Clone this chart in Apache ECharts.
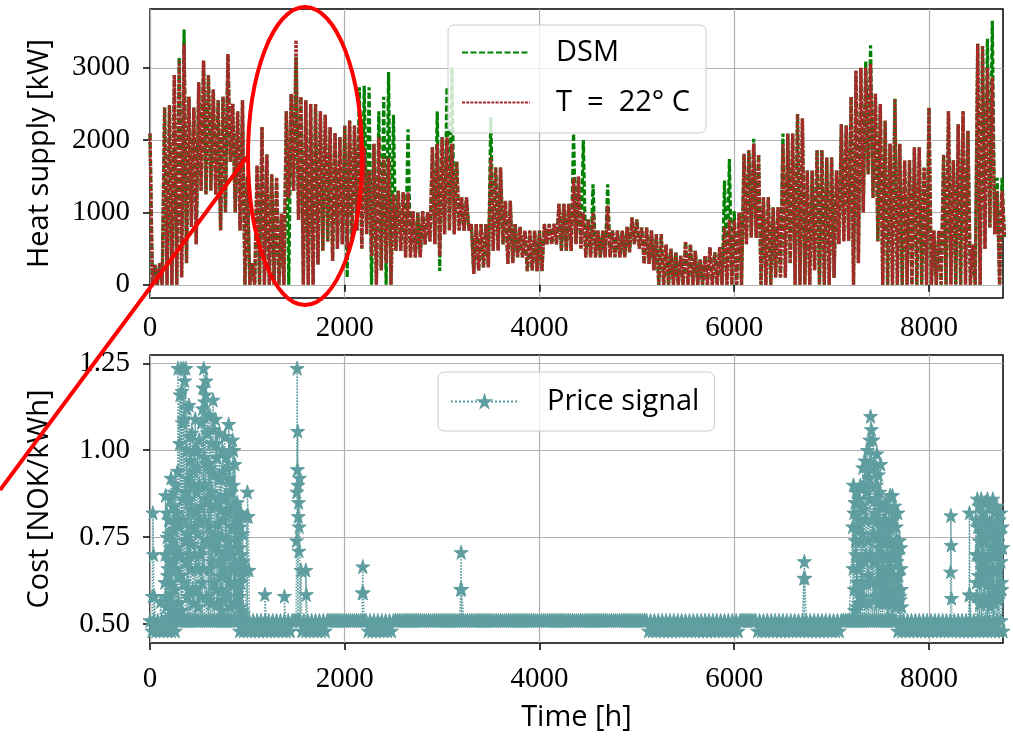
<!DOCTYPE html>
<html>
<head>
<meta charset="utf-8">
<title>Heat supply and price signal</title>
<script src="https://cdn.jsdelivr.net/npm/echarts@6.0.0/dist/echarts.min.js"></script>
<style>
  html, body { margin: 0; padding: 0; background: #fff; }
  #chart { width: 1013px; height: 737px; }
</style>
</head>
<body>
<div id="chart"></div>
<script>
const heatStep = 25;
const dsmSupply = [
  2090,0, 280,0, 300,0, 2450,0, 2480,0, 2900,0, 3150,100, 3530,300, 2600,800, 2450,560,
  2800,1300, 3100,1250, 2900,1300, 2700,1250, 2550,750, 2600,1000, 3190,1700, 2500,1000, 2400,750, 2550,0,
  1500,0, 300,0, 1650,0, 2180,0, 1800,0, 1530,0, 1480,0, 980,0, 2400,0, 2640,1300,
  3150,900, 2600,0, 2550,0, 2500,0, 2500,280, 2400,470, 2350,600, 2180,330, 2100,500, 2040,560,
  2200,100, 2270,600, 2200,750, 2730,500, 2750,700, 2730,0, 1950,0, 2400,200, 2600,0, 2940,0,
  2350,470, 1300,470, 1280,380, 2150,380, 1020,380, 1000,380, 1020,560, 1000,600, 1900,560, 2400,190,
  2040,700, 2730,750, 3010,700, 1700,750, 1210,750, 1210,750, 840,150, 840,200, 840,240, 840,240,
  2320,470, 1620,470, 1620,560, 1160,290, 1160,300, 840,380, 800,380, 750,190, 750,200, 750,190,
  750,190, 840,560, 840,560, 840,560, 1120,470, 1120,470, 1120,470, 2090,560, 1500,500, 2000,380,
  900,380, 1390,380, 750,380, 750,380, 1390,380, 750,380, 750,380, 750,380, 800,450, 930,560,
  900,500, 790,290, 790,290, 750,200, 700,0, 700,0, 560,0, 500,0, 450,0, 400,0,
  600,0, 560,0, 470,0, 350,0, 400,0, 520,0, 450,0, 520,0, 1440,0, 1740,0,
  1020,0, 1000,0, 1810,560, 1860,650, 2020,650, 1800,0, 1210,0, 1210,0, 1070,100, 1070,100,
  2090,100, 2090,300, 2090,0, 2360,0, 2300,0, 1580,0, 1580,200, 1860,0, 1860,0, 1760,0,
  1760,100, 1580,560, 2220,600, 2200,610, 2600,0, 2960,300, 3000,1000, 3100,1530, 3310,1200, 2640,600,
  2500,0, 2270,0, 1950,0, 2570,0, 1950,0, 1720,0, 1720,0, 1900,0, 1900,0, 1620,0,
  2450,0, 750,0, 750,0, 1800,0, 2400,0, 1720,0, 2220,0, 2400,0, 2130,0, 560,0,
  3330,0, 3300,500, 3400,790, 3650,700, 1480,0, 1480,660
];
const t22Supply = [
  2090,0, 280,0, 300,0, 2450,0, 2480,0, 2900,0, 3100,100, 3330,300, 2600,800, 2450,560,
  2800,1300, 3100,1250, 2900,1300, 2700,1250, 2550,750, 2600,1000, 3190,1700, 2500,1000, 2400,750, 2550,0,
  1500,0, 300,0, 1650,0, 2180,0, 1800,0, 1530,0, 1480,0, 980,0, 2400,1200, 2640,1300,
  3380,900, 2600,0, 2550,0, 2500,0, 2500,280, 2400,470, 2350,600, 2180,330, 2100,500, 2040,560,
  2200,500, 2270,600, 2200,750, 2220,500, 1900,700, 1580,400, 1950,0, 2040,200, 1760,300, 1760,0,
  1250,470, 1300,470, 1280,380, 1280,380, 1020,380, 1000,380, 1020,560, 1000,600, 1900,560, 1950,400,
  2040,700, 2040,750, 1950,700, 1700,750, 1210,750, 1210,750, 840,150, 840,200, 840,240, 840,240,
  1760,470, 1620,470, 1620,560, 1160,290, 1160,300, 840,380, 800,380, 750,190, 750,200, 750,190,
  750,190, 840,560, 840,560, 840,560, 1120,470, 1120,470, 1120,470, 1480,560, 1500,500, 1000,380,
  900,380, 1000,380, 750,380, 750,380, 1100,380, 750,380, 750,380, 750,380, 800,450, 930,560,
  900,500, 790,290, 790,290, 750,200, 700,0, 700,0, 560,0, 500,0, 450,0, 400,0,
  600,0, 560,0, 470,0, 350,0, 400,0, 520,0, 450,0, 520,0, 800,0, 900,0,
  900,0, 1000,0, 1810,560, 1860,650, 1950,650, 1800,0, 1210,0, 1210,0, 1070,100, 1070,100,
  1950,100, 2090,300, 2090,0, 2360,0, 2300,0, 1580,0, 1580,200, 1860,0, 1860,0, 1760,0,
  1760,100, 1580,560, 2220,600, 2200,610, 2600,0, 2960,300, 3000,1000, 3000,1530, 3050,1200, 2640,600,
  2500,0, 2270,0, 1950,0, 2570,0, 1950,0, 1720,0, 1720,0, 1900,0, 1900,0, 1620,0,
  2450,0, 750,0, 750,0, 1800,0, 2400,0, 1720,0, 2220,0, 2400,0, 2130,0, 560,0,
  3330,0, 3300,500, 3000,790, 2870,700, 1300,0, 1300,660
];

// price signal: base level every 20 h, plus the hours where the price jumps
const priceStep = 20;
const priceBase = [
  .51,.48,.51,.48,.51,.48,.51,.48,.51,.48,.51,.48,.51,.48,.51,.51,.51,.51,.51,.51,
  .51,.51,.51,.51,.51,.51,.51,.51,.51,.51,.51,.51,.51,.51,.51,.51,.51,.51,.51,.51,
  .51,.51,.51,.51,.51,.51,.48,.51,.48,.51,.48,.51,.48,.51,.48,.51,.48,.51,.48,.51,
  .48,.51,.48,.51,.48,.51,.48,.51,.48,.51,.48,.51,.48,.51,.51,.51,.51,.51,.48,.51,
  .48,.51,.48,.51,.48,.51,.48,.51,.48,.51,.48,.51,.51,.51,.51,.51,.51,.51,.51,.51,
  .51,.51,.51,.51,.51,.51,.51,.51,.51,.51,.51,.51,.48,.51,.48,.51,.48,.51,.48,.51,
  .48,.51,.48,.51,.48,.51,.51,.51,.51,.51,.51,.51,.51,.51,.51,.51,.51,.51,.51,.51,
  .51,.51,.51,.51,.51,.51,.51,.51,.51,.51,.51,.51,.51,.51,.51,.51,.51,.51,.51,.51,
  .51,.51,.51,.51,.51,.51,.51,.51,.51,.51,.51,.51,.51,.51,.51,.51,.51,.51,.51,.51,
  .51,.51,.51,.51,.51,.51,.51,.51,.51,.51,.51,.51,.51,.51,.51,.51,.51,.51,.51,.51,
  .51,.51,.51,.51,.51,.51,.51,.51,.51,.51,.51,.51,.51,.51,.51,.51,.51,.51,.51,.51,
  .51,.51,.51,.51,.51,.51,.51,.51,.51,.51,.51,.51,.51,.51,.51,.51,.51,.51,.51,.51,
  .51,.51,.51,.51,.51,.51,.51,.51,.51,.51,.51,.51,.51,.51,.51,.51,.48,.51,.48,.51,
  .48,.51,.48,.51,.48,.51,.48,.51,.48,.51,.48,.51,.48,.51,.48,.51,.48,.51,.48,.51,
  .48,.51,.48,.51,.48,.51,.48,.51,.48,.51,.48,.51,.48,.51,.48,.51,.48,.51,.48,.51,
  .48,.51,.48,.51,.51,.51,.51,.51,.51,.51,.51,.51,.48,.51,.48,.51,.48,.51,.48,.51,
  .48,.51,.48,.51,.48,.51,.48,.51,.48,.51,.48,.51,.48,.51,.48,.51,.48,.51,.48,.51,
  .48,.51,.48,.51,.48,.51,.48,.51,.48,.51,.48,.51,.48,.51,.48,.51,.51,.51,.51,.51,
  .51,.51,.51,.51,.51,.51,.51,.51,.51,.51,.51,.51,.51,.51,.51,.51,.51,.51,.51,.51,
  .51,.51,.51,.51,.48,.51,.48,.51,.48,.51,.48,.51,.48,.51,.48,.51,.48,.51,.48,.51,
  .48,.51,.48,.51,.48,.51,.48,.51,.48,.51,.48,.51,.48,.51,.48,.51,.48,.51,.48,.51,
  .48,.51,.48,.51,.48,.51,.48,.51,.48,.51,.48,.51,.48,.51,.48,.51,.48,.51,.48
];
const priceSpikes = [
  [25,.58],[30,.82],[36,.70],[44,.58],[110,.565],
  [152,.62],[156,.70],[160,.87],[164,.58],[168,.55],[172,.82],[176,.75],[180,.64],[184,.66],[188,.52],
  [192,.80],[196,.76],[200,.58],[204,.68],[208,.72],[212,.86],
  [216,.92],[220,.62],[224,.54],[228,.74],[232,.84],[236,.56],[240,.68],[244,.88],[248,.77],[252,.66],
  [256,.60],[260,.80],[264,.90],[268,.53],[272,.70],[276,.72],[280,.82],[284,.94],[288,1.236],[292,.64],[296,.56],
  [300,.78],[304,1.02],[308,1.16],[312,.64],[316,.70],[320,1.236],[324,.54],[328,1.17],[332,1.08],[336,.86],
  [340,.80],[344,1.236],[348,.62],[352,1.09],[356,1.2],[360,.74],[364,.88],[368,1.236],[372,.68],[376,1.0],
  [380,1.12],[384,.58],[388,.76],[392,.92],[396,.60],[400,1.13],[404,.86],[408,.70],[412,1.04],[416,.97],[420,.66],
  [424,.83],[428,.73],[432,1.05],[436,.90],[440,.60],[444,.56],[448,.94],[452,1.0],[456,.78],[460,.70],
  [464,1.09],[468,.82],[472,.66],[476,.60],[480,.88],[484,.95],[488,1.0],[492,.76],
  [496,.55],[500,.66],[504,1.03],[508,.90],[512,.80],[516,.58],[520,.70],[524,.84],
  [528,1.08],[532,.72],[536,.62],[540,1.12],[544,1.18],[548,.66],[552,1.236],[556,.98],[560,1.14],[564,.80],
  [568,.90],[572,1.16],[576,1.20],[580,.58],[584,.74],[588,.86],[592,1.05],[596,1.1],[600,.96],
  [604,.78],[608,.57],[612,.66],[616,1.10],[620,.95],[624,.84],[628,.56],[632,1.02],[636,.88],[640,.68],
  [644,.74],[648,1.145],[652,1.06],[656,.93],
  [660,.62],[664,.76],[668,.84],[672,1.09],[676,.72],[680,.60],[684,1.02],[688,.98],[692,.56],[696,.86],
  [700,.79],[704,.71],[708,.92],[712,1.05],[716,.68],[720,.64],
  [724,.83],[728,.92],[732,.60],[736,.54],[740,.75],[744,1.0],[748,.94],[752,.80],[756,.57],[760,.66],
  [764,.86],[768,1.04],[772,.70],[776,.87],[780,.98],[784,.58],[788,.64],[792,.95],[796,.82],[800,.74],
  [804,.58],[808,1.075],[812,.92],[816,.62],[820,.72],[824,1.0],[828,.55],[832,.83],[836,.88],[840,.70],
  [844,.66],[848,1.03],[852,.78],[856,.90],[860,1.0],[864,.56],[868,.62],[872,.96],[876,.84],[880,.78],
  [884,.56],[888,.67],[892,.74],[896,.85],[900,.66],[904,.60],[908,.82],[912,.80],[916,.58],[920,.72],
  [924,.78],[928,.55],[932,.62],[936,.82],[940,.70],[944,.64],[948,.54],[952,.76],[956,.68],[960,.53],
  [984,.655],[992,.81],[1000,.88],[1008,.81],[1016,.655],
  [1180,.585],[1380,.58],
  [1505,.74],[1508,.88],[1511,1.236],[1514,.945],[1517,1.055],[1520,.90],[1523,.81],[1526,.85],[1529,.71],[1532,.78],[1535,.92],
  [1550,.655],[1600,.655],[1605,.585],
  [2180,.59],[2185,.665],[2190,.59],
  [3190,.60],[3195,.706],[3200,.60],
  [6715,.632],[6720,.68],[6725,.632],
  [7216,.78],[7220,.66],[7224,.90],[7228,.82],[7232,.60],[7236,.54],[7240,.85],[7244,.74],[7248,.70],[7252,.88],
  [7256,.55],[7260,.62],[7264,.88],[7268,.78],[7272,.66],[7276,.56],[7280,.80],[7284,.86],[7288,.58],[7292,.68],
  [7296,.90],[7300,.60],[7304,.74],[7308,.84],
  [7312,.62],[7316,.76],[7320,.95],[7324,.58],[7328,.83],[7332,.90],[7336,.56],[7340,.68],[7344,.97],[7348,.80],
  [7352,.70],[7356,.62],[7360,.88],[7364,.94],[7368,1.0],[7372,.74],[7376,.64],[7380,.56],[7384,.92],[7388,.86],
  [7392,1.03],[7396,.70],[7400,1.098],[7404,.90],[7408,1.06],[7412,.62],[7416,.80],[7420,.95],[7424,1.03],[7428,.76],
  [7432,.68],[7436,.58],[7440,.96],[7444,.82],[7448,.86],[7452,.68],[7456,.58],[7460,.90],[7464,.99],[7468,.62],
  [7472,.75],[7476,.80],[7480,.93],[7484,.56],[7488,.63],[7492,.72],[7496,.88],[7500,.84],[7504,.96],[7508,.60],
  [7512,.70],[7516,.78],[7520,.84],[7524,.66],[7528,.56],
  [7532,.58],[7536,.80],[7540,.74],[7544,.65],[7548,.62],[7552,.85],[7556,.80],[7560,.60],[7564,.56],[7568,.76],
  [7572,.70],[7576,.52],[7580,.64],[7584,.83],[7588,.78],[7592,.68],
  [7596,.60],[7600,.87],[7604,.74],[7608,.58],[7612,.66],[7616,.80],[7620,.56],[7624,.87],[7628,.80],[7632,.72],
  [7636,.60],[7640,.64],[7644,.70],[7648,.84],[7652,.62],[7656,.55],[7660,.58],[7664,.78],[7668,.74],[7672,.68],
  [7676,.56],[7680,.82],[7684,.70],[7688,.60],[7692,.64],[7696,.74],[7700,.58],[7704,.57],[7708,.72],[7712,.66],
  [7716,.60],[7720,.55],
  [8222,.65],[8225,.812],[8228,.727],[8231,.574],
  [8412,.584],[8416,.82],[8420,.584],
  [8480,.80],[8484,.70],[8488,.62],[8492,.58],[8496,.86],[8500,.78],[8504,.70],[8508,.64],[8512,.84],[8516,.74],
  [8520,.56],[8524,.68],[8528,.78],[8532,.56],[8536,.86],[8540,.76],[8544,.66],[8548,.62],[8552,.82],[8556,.70],
  [8560,.74],[8564,.80],[8568,.58],[8572,.64],[8576,.85],[8580,.56],[8584,.68],[8588,.74],[8592,.80],[8596,.66],
  [8600,.86],[8604,.78],[8608,.62],[8612,.58],[8616,.76],[8620,.70],[8624,.84],[8628,.64],[8632,.55],[8636,.76],
  [8640,.79],[8644,.58],[8648,.70],[8652,.72],[8656,.86],[8660,.66],[8664,.60],[8668,.78],[8672,.82],[8676,.56],
  [8680,.74],[8684,.70],[8688,.65],[8692,.60],[8696,.84],[8700,.74],[8704,.78],[8708,.66],[8712,.57],[8716,.70],
  [8720,.80],[8724,.58],[8728,.72],[8732,.76],[8736,.82],[8740,.68],[8744,.62],[8748,.60],[8752,.78],[8756,.72]
];

const hourTicks = [0, 2000, 4000, 6000, 8000];
const heatTicks = [0, 1000, 2000, 3000];
const costTicks = [0.5, 0.75, 1.0, 1.25];

const heatPoints = vals => vals.map((v, i) => [i * heatStep, v]);
const pricePoints = priceBase.map((v, i) => [i * priceStep, v])
  .concat(priceSpikes)
  .sort((a, b) => a[0] - b[0]);

const starPath = 'path://M50,0 L61,35 L98,35 L68,57 L79,91 L50,70 L21,91 L32,57 L2,35 L39,35 Z';
const serif = 'Liberation Serif';
const sans = 'Open Sans';

function xAxisFor(gridIndex, withName, labelMargin) {
  return {
    type: 'value', gridIndex: gridIndex, min: 0, max: 8760,
    name: withName ? 'Time [h]' : '', nameLocation: 'middle', nameGap: 60,
    nameMoveOverlap: false,
    nameTextStyle: { fontFamily: sans, fontSize: 29, color: '#000' },
    axisLine: { show: false },
    axisTick: { show: true, length: 7, customValues: hourTicks, lineStyle: { color: '#000', width: 1.5 } },
    axisLabel: {
      customValues: hourTicks, formatter: v => String(v),
      fontFamily: serif, fontSize: 29, color: '#000', margin: labelMargin
    },
    splitLine: { show: true, lineStyle: { color: '#b0b0b0', width: 1.2 } }
  };
}

function yAxisFor(gridIndex, name, min, max, ticks, fmt) {
  return {
    type: 'value', gridIndex: gridIndex, min: min, max: max,
    name: name, nameLocation: 'middle', nameGap: 96, nameRotate: 90,
    nameMoveOverlap: false,
    nameTextStyle: { fontFamily: sans, fontSize: 29, color: '#000' },
    axisLine: { show: false },
    axisTick: { show: true, length: 7, customValues: ticks, lineStyle: { color: '#000', width: 1.5 } },
    axisLabel: { customValues: ticks, formatter: fmt, fontFamily: serif, fontSize: 29, color: '#000', margin: 20 },
    splitLine: { show: true, lineStyle: { color: '#b0b0b0', width: 1.2 } }
  };
}

const chart = echarts.init(document.getElementById('chart'));
chart.setOption({
  animation: false,
  backgroundColor: '#fff',
  grid: [
    { left: 150, top: 9, width: 853, height: 289, show: true, borderColor: '#000', borderWidth: 1.5, outerBoundsMode: 'none' },
    { left: 150, top: 355, width: 853, height: 288, show: true, borderColor: '#000', borderWidth: 1.5, outerBoundsMode: 'none' }
  ],
  xAxis: [xAxisFor(0, false, 16), xAxisFor(1, true, 22)],
  yAxis: [
    yAxisFor(0, 'Heat supply [kW]', -182, 3812, heatTicks, v => String(v)),
    yAxisFor(1, 'Cost [NOK/kWh]', 0.445, 1.274, costTicks, v => v.toFixed(2))
  ],
  legend: [
    {
      data: ['DSM', 'T = 22°C'], orient: 'vertical', left: 448, top: 25,
      padding: [13, 16, 16, 13], itemGap: 21, itemWidth: 68, itemHeight: 14,
      backgroundColor: 'rgba(255,255,255,0.8)', borderColor: '#cccccc', borderWidth: 1, borderRadius: 6,
      selectedMode: false,
      itemStyle: { opacity: 0 },
      lineStyle: { width: 2 },
      formatter: name => name === 'DSM' ? name : 'T  =  22° C',
      textStyle: { fontFamily: sans, fontSize: 29, color: '#000', padding: [0, 0, 0, 21] }
    },
    {
      data: ['Price signal'], orient: 'vertical', left: 438, top: 372,
      padding: [15, 15, 15, 12], itemWidth: 67, itemHeight: 14,
      backgroundColor: 'rgba(255,255,255,0.8)', borderColor: '#cccccc', borderWidth: 1, borderRadius: 6,
      selectedMode: false,
      textStyle: { fontFamily: sans, fontSize: 29, color: '#000', padding: [0, 0, 0, 24] }
    }
  ],
  series: [
    {
      name: 'DSM', type: 'line', xAxisIndex: 0, yAxisIndex: 0,
      data: heatPoints(dsmSupply), symbol: 'none',
      itemStyle: { color: '#008000' },
      lineStyle: { color: '#008000', width: 3.2, type: [6, 2.5] }
    },
    {
      name: 'T = 22°C', type: 'line', xAxisIndex: 0, yAxisIndex: 0,
      data: heatPoints(t22Supply), symbol: 'none',
      itemStyle: { color: '#a52a2a' },
      lineStyle: { color: '#a52a2a', width: 3.4, type: [3, 1.2] }
    },
    {
      name: 'Price signal', type: 'line', xAxisIndex: 1, yAxisIndex: 1,
      data: pricePoints, symbol: starPath, symbolSize: 14, showSymbol: true,
      itemStyle: { color: '#5f9ea0', borderColor: '#5f9ea0', borderWidth: 1 },
      lineStyle: { color: '#5f9ea0', width: 1.5, type: 'dotted' }
    }
  ],
  graphic: [
    { type: 'ellipse', z: 100, shape: { cx: 305, cy: 156, rx: 57, ry: 149 },
      style: { fill: 'none', stroke: '#ff0000', lineWidth: 4 } },
    { type: 'line', z: 100, shape: { x1: 0, y1: 490, x2: 247, y2: 157 },
      style: { stroke: '#ff0000', lineWidth: 4 } }
  ]
});
window.onresize = function () {
  chart.resize();
};
</script>
</body>
</html>
